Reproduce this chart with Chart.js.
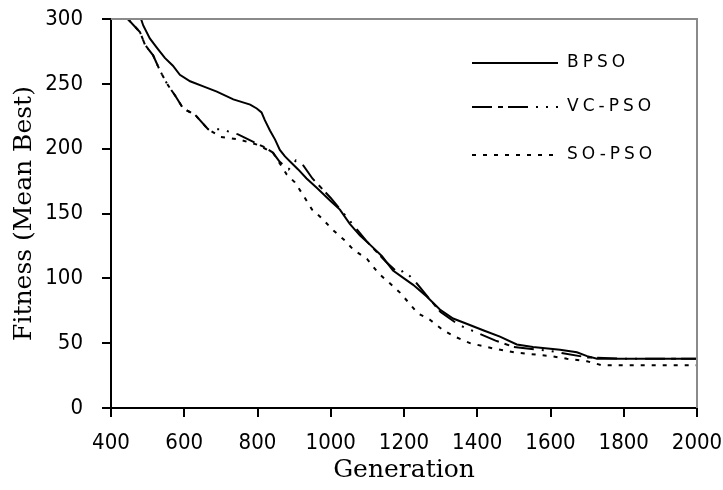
<!DOCTYPE html>
<html>
<head>
<meta charset="utf-8">
<script src="https://cdn.jsdelivr.net/npm/chart.js@4"></script>
<style>
  body { margin: 0; background: #fff; }
  canvas { display: block; }
</style>
</head>
<body>
<canvas id="fitChart" width="723" height="490"></canvas>
<script>
// Mean best fitness vs generation, three PSO variants

const seriesNames = ['BPSO', 'VC-PSO', 'SO-PSO'];

const bpsoGen = [482, 488, 506, 525, 547, 569, 588, 616, 652, 689, 734, 780, 798, 811, 820, 834, 848, 861, 875, 893, 911, 934, 961, 998, 1025, 1052, 1080, 1107, 1140, 1170, 1200, 1225, 1262, 1298, 1334, 1371, 1416, 1462, 1508, 1552, 1626, 1672, 1700, 1727, 2000];
const bpsoFit = [300, 295, 285, 278, 270, 264, 257, 252, 248, 244, 238, 234, 231, 228, 222, 214, 207, 199, 194, 189, 184, 177, 170, 160, 153, 142, 133, 126, 117, 106, 100, 95, 86, 76, 69, 65, 60, 55, 49, 47, 45, 43, 40, 38, 38];

const vcGen = [446, 479, 493, 515, 534, 553, 575, 597, 630, 665, 700, 747, 790, 820, 842, 860, 885, 905, 925, 950, 1000, 1050, 1100, 1150, 1185, 1200, 1215, 1235, 1270, 1300, 1350, 1400, 1450, 1500, 1600, 1700, 1800, 2000];
const vcFit = [300, 290, 280, 272, 260, 250, 241, 231, 226, 215, 215, 211, 205, 201, 197, 190, 184, 191, 187, 177, 162, 145, 128, 113, 104, 106, 102, 96, 84, 74, 64, 58, 52, 47, 44, 39, 38, 38];

const soGen = [446, 479, 493, 515, 534, 553, 575, 597, 630, 665, 700, 750, 800, 842, 860, 880, 902, 925, 949, 977, 1003, 1039, 1062, 1099, 1130, 1162, 1189, 1238, 1271, 1307, 1339, 1380, 1443, 1500, 1600, 1645, 1700, 1740, 2000];
const soFit = [300, 290, 280, 272, 260, 250, 241, 231, 226, 215, 209, 207, 203, 197, 189, 180, 174, 164, 153, 146, 138, 129, 122, 115, 104, 96, 89, 73, 68, 60, 55, 50, 46, 43, 40, 38, 36, 33, 33];

const tickFont = { family: 'DejaVu Sans Condensed, DejaVu Sans, sans-serif', size: 22 };
const titleFont = { family: 'DejaVu Serif, Liberation Serif, serif', size: 25 };

function toPoints(xs, ys) {
  return xs.map((x, i) => ({ x, y: ys[i] }));
}

// fixed plot box: drop the extra label padding chart.js adds
function fixX(s) {
  s.height = 82;
  s.paddingLeft = 0;
  s.paddingRight = 0;
}
function fixY(s) {
  s.width = 111;
  s.paddingTop = 0;
  s.paddingBottom = 0;
}

// gray top/right frame and the in-plot legend
const frameAndLegend = {
  id: 'frameAndLegend',
  afterDraw(chart) {
    const { ctx, chartArea } = chart;
    ctx.save();
    ctx.strokeStyle = '#8a8a8a';
    ctx.lineWidth = 2;
    ctx.beginPath();
    ctx.moveTo(chartArea.left, chartArea.top);
    ctx.lineTo(chartArea.right, chartArea.top);
    ctx.lineTo(chartArea.right, chartArea.bottom);
    ctx.stroke();

    const rows = [63, 107, 155];
    ctx.font = '17px "DejaVu Sans", sans-serif';
    ctx.textBaseline = 'middle';
    ctx.fillStyle = '#000';
    if ('letterSpacing' in ctx) ctx.letterSpacing = '4px';
    chart.data.datasets.forEach((ds, i) => {
      ctx.strokeStyle = '#000';
      ctx.lineWidth = 2;
      ctx.setLineDash(ds.borderDash || []);
      ctx.beginPath();
      ctx.moveTo(472, rows[i]);
      ctx.lineTo(558, rows[i]);
      ctx.stroke();
      ctx.setLineDash([]);
      ctx.fillText(ds.label, 567, rows[i]);
    });
    ctx.restore();
  }
};

new Chart(document.getElementById('fitChart').getContext('2d'), {
  type: 'line',
  data: {
    datasets: [
      { label: seriesNames[0], data: toPoints(bpsoGen, bpsoFit), borderDash: [] },
      { label: seriesNames[1], data: toPoints(vcGen, vcFit), borderDash: [20, 6, 5, 5, 20, 8, 2, 8, 2, 8] },
      { label: seriesNames[2], data: toPoints(soGen, soFit), borderDash: [4, 7] }
    ].map(ds => Object.assign(ds, {
      borderColor: '#000',
      borderWidth: 2,
      pointRadius: 0,
      tension: 0,
      fill: false
    }))
  },
  options: {
    responsive: false,
    animation: false,
    layout: { padding: { top: 19, right: 26, left: 0, bottom: 0 } },
    plugins: {
      legend: { display: false },
      tooltip: { enabled: false }
    },
    scales: {
      x: {
        type: 'linear',
        min: 400,
        max: 2000,
        afterFit: fixX,
        ticks: { stepSize: 200, color: '#000', font: tickFont, padding: 13, maxRotation: 0, callback: v => String(v) },
        grid: { drawOnChartArea: false, tickLength: 9, color: '#000', lineWidth: 2 },
        border: { color: '#000', width: 2 },
        title: { display: true, text: 'Generation', color: '#000', font: titleFont, padding: { top: 0, bottom: 5 } }
      },
      y: {
        min: 0,
        max: 300,
        afterFit: fixY,
        ticks: { stepSize: 50, color: '#000', font: tickFont, padding: 19, callback: v => String(v) },
        grid: { drawOnChartArea: false, tickLength: 9, color: '#000', lineWidth: 2 },
        border: { color: '#000', width: 2 },
        title: { display: true, text: 'Fitness (Mean Best)', color: '#000', font: titleFont, padding: { top: 9, bottom: 0 } }
      }
    }
  },
  plugins: [frameAndLegend]
});
</script>
</body>
</html>
